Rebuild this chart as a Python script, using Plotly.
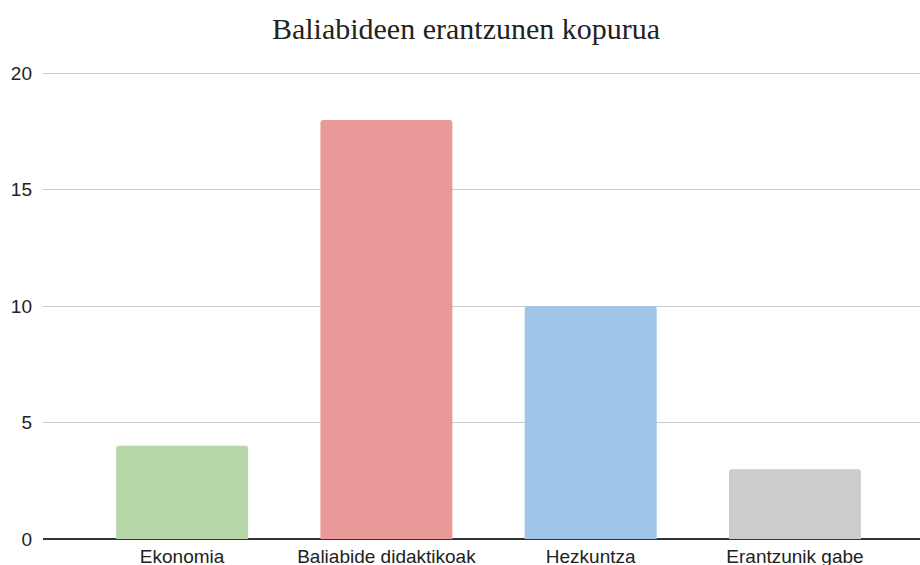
import plotly.graph_objects as go

categories = ["Ekonomia", "Baliabide didaktikoak", "Hezkuntza", "Erantzunik gabe"]
values = [4, 18, 10, 3]
colors = ["#b6d7a8", "#ea9999", "#9fc5e8", "#cccccc"]
title_text = "Baliabideen erantzunen kopurua"
y_ticks = [0, 5, 10, 15, 20]

fig = go.Figure(go.Bar(
    x=list(range(len(categories))),
    y=values,
    marker=dict(color=colors, line=dict(width=0), cornerradius=3),
    hoverinfo="skip",
))

fig.update_layout(
    width=920, height=565,
    margin=dict(l=43, r=0, t=71, b=26, autoexpand=False),
    paper_bgcolor="white", plot_bgcolor="white",
    bargap=0.354,
    showlegend=False,
    title=dict(text=title_text, x=466 / 920, xanchor="center", y=1 - 28 / 565, yanchor="middle",
               font=dict(family="Liberation Serif", size=30, color="#222222")),
    font=dict(family="Arial, Liberation Sans", size=19, color="#222222"),
)
fig.update_xaxes(
    tickmode="array", tickvals=list(range(len(categories))), ticktext=categories,
    range=[-0.681, 3.612], showgrid=False, zeroline=False, showline=False,
    ticks="", tickfont=dict(size=19, color="#222222"), ticklabelstandoff=4,
    automargin=False,
)
fig.update_yaxes(
    range=[0, 20.1], tickvals=y_ticks, showgrid=True, gridcolor="#cccccc", gridwidth=1,
    zeroline=True, zerolinecolor="#333333", zerolinewidth=1.5,
    showline=False, ticks="", tickfont=dict(size=19, color="#222222"),
    ticklabelstandoff=10, automargin=False,
)

fig.write_html("out.html", config={"displayModeBar": False},
               post_script="document.body.style.margin='0';")
